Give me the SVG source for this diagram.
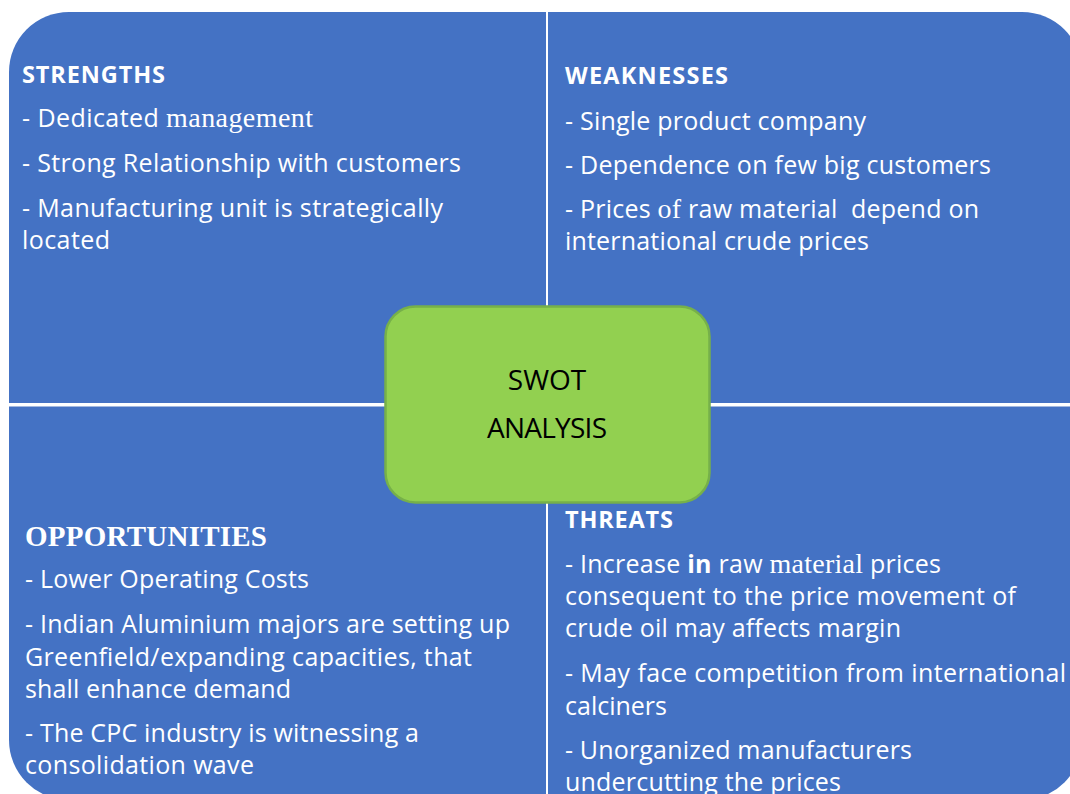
<svg xmlns="http://www.w3.org/2000/svg" width="1070" height="794" viewBox="0 0 1070 794">
<style>
.q{fill:#4472C4}
.t{font-family:"Open Sans","Liberation Sans",sans-serif;font-size:25px;fill:#FFFFFF}
.h{font-weight:bold;font-size:23.5px}
.sr{font-family:"Liberation Serif","Times New Roman",serif;font-size:28px}
.hs{font-family:"Liberation Serif","Times New Roman",serif;font-weight:bold;font-size:29px}
.b{font-weight:bold}
.c{font-family:"Open Sans","Liberation Sans",sans-serif;font-size:28px;fill:#000000;text-anchor:middle}
</style>
<rect width="1070" height="794" fill="#FFFFFF"/>
<g id="strengths">
<path class="q" d="M9,403 V72 A60,60 0 0 1 69,12 H546 V403 Z"/>
<text class="t h" x="22" y="83" textLength="143">STRENGTHS</text>
<text class="t" x="22" y="127" textLength="291">- Dedicated <tspan class="sr">management</tspan></text>
<text class="t" x="22" y="172" textLength="439">- Strong Relationship with customers</text>
<text class="t" x="22" y="217" textLength="421">- Manufacturing unit is strategically</text>
<text class="t" x="22" y="249" textLength="88">located</text>
</g>
<g id="weaknesses">
<path class="q" d="M548,12 H1022 A60,60 0 0 1 1082,72 V403 H548 Z"/>
<text class="t h" x="565" y="84" textLength="163">WEAKNESSES</text>
<text class="t" x="565" y="130" textLength="301">- Single product company</text>
<text class="t" x="565" y="174" textLength="426">- Dependence on few big customers</text>
<text class="t" x="565" y="218" textLength="414" xml:space="preserve">- Prices <tspan class="sr">of</tspan> raw material  depend on</text>
<text class="t" x="565" y="250" textLength="304">international crude prices</text>
</g>
<g id="opportunities">
<path class="q" d="M9,406.5 H546 V800 H69 A60,60 0 0 1 9,740 Z"/>
<text class="t hs" x="25" y="546" textLength="242">OPPORTUNITIES</text>
<text class="t" x="25" y="588" textLength="284">- Lower Operating Costs</text>
<text class="t" x="25" y="633" textLength="485">- Indian Aluminium majors are setting up</text>
<text class="t" x="25" y="666" textLength="447">Greenfield/expanding capacities, that</text>
<text class="t" x="25" y="698" textLength="266">shall enhance demand</text>
<text class="t" x="25" y="742" textLength="394">- The CPC industry is witnessing a</text>
<text class="t" x="25" y="774" textLength="229">consolidation wave</text>
</g>
<g id="threats">
<path class="q" d="M548,406.5 H1082 V740 A60,60 0 0 1 1022,800 H548 Z"/>
<text class="t h" x="565" y="528" textLength="108">THREATS</text>
<text class="t" x="565" y="573" textLength="376">- Increase <tspan class="b">in</tspan> raw <tspan class="sr">material</tspan> prices</text>
<text class="t" x="565" y="605" textLength="451">consequent to the price movement of</text>
<text class="t" x="565" y="637" textLength="336">crude oil may affects margin</text>
<text class="t" x="565" y="682" textLength="501">- May face competition from international</text>
<text class="t" x="565" y="715" textLength="102">calciners</text>
<text class="t" x="565" y="759" textLength="347">- Unorganized manufacturers</text>
<text class="t" x="565" y="791" textLength="276">undercutting the prices</text>
</g>
<g id="swot-analysis">
<rect x="385.5" y="306.5" width="324" height="196" rx="30" ry="30" fill="#92D050" stroke="#76B04A" stroke-width="2.5"/>
<text class="c" x="547" y="390">SWOT</text>
<text class="c" x="547" y="438" textLength="120">ANALYSIS</text>
</g>
</svg>
